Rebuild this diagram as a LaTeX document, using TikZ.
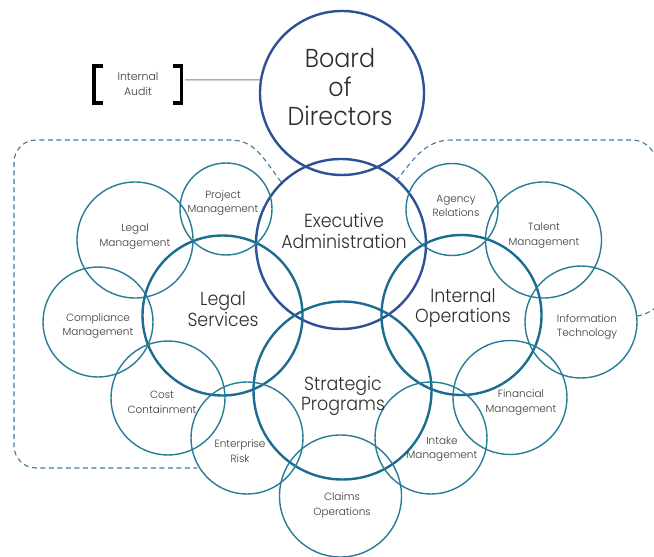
\documentclass[tikz,border=0pt]{standalone}
\usepackage{fontspec}
\setmainfont{Poppins Light}
\newfontfamily\narrowlight{Poppins Light}[FakeStretch=0.92]
\definecolor{boardblue}{HTML}{2D5096}
\definecolor{unitteal}{HTML}{1B6C91}
\definecolor{teamteal}{HTML}{287D96}
\definecolor{dashteal}{HTML}{3C7DA0}
\definecolor{inkgray}{HTML}{2E2E2E}
\definecolor{softgray}{HTML}{3A3A3A}
\tikzset{
  topring/.style={circle, draw=boardblue, line width=2.4bp, inner sep=0pt, minimum size=#1},
  unitring/.style={circle, draw=unitteal, line width=2.4bp, inner sep=0pt, minimum size=#1},
  teamring/.style={circle, draw=teamteal, line width=1.4bp, inner sep=0pt, minimum size=#1},
  bigtext/.style={align=center, text=inkgray, inner sep=0pt, font=\narrowlight\fontsize{26}{29.5}\selectfont},
  midtext/.style={align=center, text=inkgray, inner sep=0pt, font=\narrowlight\fontsize{19}{20.5}\selectfont},
  smalltext/.style={align=center, text=softgray, inner sep=0pt, font=\fontsize{10.5}{14.5}\selectfont},
  groupline/.style={draw=dashteal, line width=1.1bp, dash pattern=on 5bp off 3.5bp},
  bracketline/.style={draw=black, line width=3.6bp, line cap=butt, line join=miter},
}
\begin{document}
\begin{tikzpicture}[x=1bp, y=-1bp]
\useasboundingbox[fill=white] (0,0) rectangle (654,557);

% dashed grouping outlines
\draw[groupline] (281,182) .. controls (262,156) and (254,140) .. (230,140)
  -- (36,140) .. controls (24,140) and (14,150) .. (14,162)
  -- (14,446) .. controls (14,458) and (24,468) .. (36,468) -- (197,468);
\draw[groupline] (396,181) .. controls (416,156) and (426,140) .. (452,140)
  -- (632,140) .. controls (644,140) and (652,148) .. (658,160);
\draw[groupline] (637,316) .. controls (645,315) and (652,311) .. (660,304);

% governance circles
\node[topring=164bp] (board) at (342,93) {};
\node[topring=170bp] (exec) at (341,244) {};

% division circles
\node[unitring=160bp] (legal) at (222.5,315.5) {};
\node[unitring=160bp] (intops) at (461.5,315) {};
\node[unitring=178bp] (strat) at (342.5,390.5) {};

% team circles
\node[teamring=92bp]  (projc) at (226,209) {};
\node[teamring=116bp] (legmc) at (135,240) {};
\node[teamring=110bp] (compc) at (98,322) {};
\node[teamring=114bp] (costc) at (168,398) {};
\node[teamring=112bp] (riskc) at (247,438) {};
\node[teamring=122bp] (claimc) at (340.5,496) {};
\node[teamring=112bp] (intakec) at (431,438) {};
\node[teamring=114bp] (finc) at (510,397.5) {};
\node[teamring=112bp] (itc) at (581,322) {};
\node[teamring=116bp] (talc) at (543.5,240) {};
\node[teamring=92bp]  (agc) at (452,209.5) {};

% labels
\node[bigtext] (boardtxt) at (340,87) {Board\\of\\Directors};
\node[midtext] (exectxt) at (344,231) {Executive\\Administration};
\node[midtext] (legaltxt) at (223,309) {Legal\\Services};
\node[midtext] (inttxt) at (463,308) {Internal\\Operations};
\node[midtext] (strattxt) at (343,396) {Strategic\\Programs};

\node[smalltext] (projtxt) at (223,203) {Project\\Management};
\node[smalltext] (legmtxt) at (135,236.5) {Legal\\Management};
\node[smalltext] (comptxt) at (98,326) {Compliance\\Management};
\node[smalltext] (costtxt) at (162,402.5) {Cost\\Containment};
\node[smalltext] (risktxt) at (240,451) {Enterprise\\Risk};
\node[smalltext] (claimtxt) at (342,505.5) {Claims\\Operations};
\node[smalltext] (intaketxt) at (442,449) {Intake\\Management};
\node[smalltext] (fintxt) at (521,402.5) {Financial\\Management};
\node[smalltext] (ittxt) at (587,327) {Information\\Technology};
\node[smalltext] (taltxt) at (544,235.5) {Talent\\Management};
\node[smalltext] (agtxt) at (456,206) {Agency\\Relations};

% internal audit with brackets
\node[smalltext, font=\fontsize{11}{15}\selectfont] (audit) at (138,84) {Internal\\Audit};
\draw[bracketline] (102.5,66) -- (94,66) -- (94,103) -- (102.5,103);
\draw[bracketline] (173,66) -- (181.5,66) -- (181.5,103) -- (173,103);
\coordinate (auditR) at (185,80);
\draw[draw=gray, line width=1bp] (auditR) -- (board.171);
\end{tikzpicture}
\end{document}
